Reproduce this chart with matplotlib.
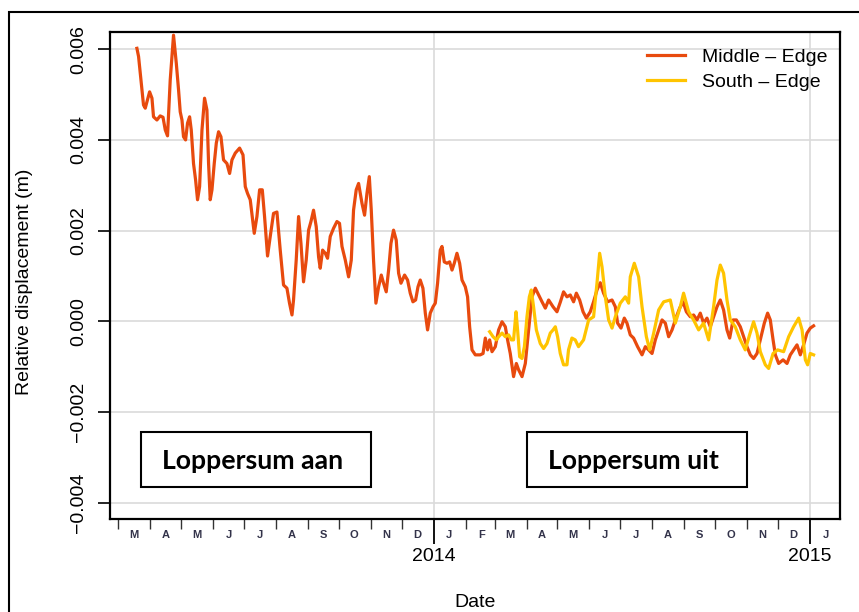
import numpy as np
import pandas as pd
import matplotlib
matplotlib.use('Agg')
import matplotlib.pyplot as plt
from matplotlib.patches import Rectangle
from matplotlib.lines import Line2D
import matplotlib.dates as mdates

plt.rcParams['font.family'] = ['Liberation Sans', 'DejaVu Sans']

# ---------------- data ----------------
base_date = '2013-03-01'

middle_days = [18.1, 19.7, 24.5, 26.2, 27.8, 30.4, 32.7, 34.2, 37.5, 40.7,
               43.4, 45.6, 47.8, 50.4, 53.6, 56.3, 58.5, 60.1, 61.8, 63.3,
               65.3, 67.2, 69.2, 70.8, 73.0, 75.0, 76.9, 78.9, 81.2, 83.7,
               86.0, 87.6, 89.2, 90.9, 93.1, 95.1, 97.3, 99.6, 102.1, 105.4,
               108.0, 110.3, 113.5, 117.7, 121.0, 123.2, 125.4, 128.0, 131.9, 134.5,
               137.1, 139.7, 141.9, 144.8, 147.4, 150.6, 153.9, 157.1, 160.3, 163.6,
               166.1, 168.5, 170.0, 172.6, 174.9, 177.2, 179.7, 182.3, 184.6, 186.9,
               189.4, 192.0, 194.3, 195.9, 198.2, 200.8, 203.0, 205.6, 208.8, 212.1,
               214.6, 217.0, 220.2, 223.4, 226.0, 228.2, 230.8, 233.1, 236.4, 238.9,
               241.2, 243.5, 245.4, 247.6, 249.9, 252.5, 255.1, 257.3, 259.9, 262.2,
               264.5, 267.0, 269.6, 271.9, 274.2, 277.7, 280.6, 283.2, 285.8, 288.4,
               290.7, 292.9, 295.5, 297.8, 300.0, 302.6, 305.3, 307.5, 309.7, 312.3,
               314.0, 316.2, 318.8, 321.4, 323.7, 325.9, 328.5, 331.1, 333.4, 336.6,
               338.8, 340.8, 343.1, 346.3, 351.1, 353.8, 356.0, 358.2, 360.2, 362.5,
               365.7, 368.9, 372.2, 375.4, 377.6, 380.2, 383.4, 386.1, 388.3, 391.6,
               394.8, 398.0, 401.3, 404.5, 407.7, 411.0, 414.2, 417.4, 421.7, 425.5,
               428.7, 431.9, 435.2, 438.4, 441.6, 444.3, 447.5, 450.8, 454.0, 457.8,
               461.0, 464.3, 467.5, 470.7, 474.6, 478.9, 482.1, 484.3, 487.6, 490.8,
               493.4, 496.6, 499.8, 503.7, 508.0, 511.2, 514.4, 517.7, 520.9, 524.1,
               527.4, 530.6, 533.8, 537.1, 541.3, 544.5, 547.8, 551.0, 554.8, 558.0,
               561.3, 564.5, 567.7, 571.0, 574.2, 577.4, 580.7, 583.9, 587.1, 590.4,
               593.0, 596.3, 599.5, 603.3, 606.5, 609.8, 613.0, 616.2, 619.5, 622.7,
               626.6, 629.8, 632.4, 635.1, 637.3, 640.5, 644.8, 648.6, 651.8, 655.0,
               658.3, 661.5, 664.7, 668.0, 671.2, 674.4]

middle_vals = [0.00602, 0.00584, 0.00477, 0.00470, 0.00484, 0.00506, 0.00492, 0.00451, 0.00444, 0.00453,
               0.00450, 0.00422, 0.00409, 0.00532, 0.00631, 0.00569, 0.00510, 0.00462, 0.00444, 0.00407,
               0.00400, 0.00437, 0.00451, 0.00422, 0.00348, 0.00312, 0.00268, 0.00297, 0.00422, 0.00492,
               0.00466, 0.00348, 0.00268, 0.00290, 0.00348, 0.00393, 0.00418, 0.00407, 0.00356, 0.00348,
               0.00326, 0.00356, 0.00371, 0.00382, 0.00367, 0.00297, 0.00282, 0.00268, 0.00194, 0.00231,
               0.00290, 0.00290, 0.00231, 0.00144, 0.00187, 0.00238, 0.00241, 0.00157, 0.00080, 0.00073,
               0.00040, 0.00014, 0.00047, 0.00135, 0.00231, 0.00172, 0.00087, 0.00135, 0.00201, 0.00220,
               0.00245, 0.00209, 0.00142, 0.00117, 0.00157, 0.00150, 0.00139, 0.00187, 0.00205, 0.00220,
               0.00216, 0.00165, 0.00135, 0.00098, 0.00135, 0.00245, 0.00290, 0.00304, 0.00260, 0.00234,
               0.00282, 0.00319, 0.00245, 0.00135, 0.00040, 0.00076, 0.00102, 0.00084, 0.00065, 0.00113,
               0.00172, 0.00201, 0.00179, 0.00106, 0.00084, 0.00102, 0.00091, 0.00062, 0.00043, 0.00047,
               0.00076, 0.00091, 0.00073, 0.00018, -0.00019, 0.00018, 0.00032, 0.00040, 0.00084, 0.00157,
               0.00165, 0.00131, 0.00128, 0.00131, 0.00113, 0.00128, 0.00150, 0.00128, 0.00091, 0.00076,
               0.00054, -0.00012, -0.00063, -0.00074, -0.00074, -0.00071, -0.00037, -0.00063, -0.00041, -0.00067,
               -0.00056, -0.00019, -0.00001, -0.00012, -0.00041, -0.00071, -0.00122, -0.00093, -0.00107, -0.00122,
               -0.00093, -0.00019, 0.00054, 0.00073, 0.00058, 0.00043, 0.00029, 0.00047, 0.00032, 0.00021,
               0.00042, 0.00065, 0.00054, 0.00058, 0.00043, 0.00062, 0.00047, 0.00021, 0.00007, 0.00021,
               0.00043, 0.00069, 0.00085, 0.00062, 0.00043, 0.00047, 0.00032, -0.00004, -0.00015, 0.00007,
               -0.00004, -0.00030, -0.00037, -0.00056, -0.00074, -0.00056, -0.00063, -0.00071, -0.00041, -0.00019,
               0.00003, -0.00004, -0.00034, -0.00019, 0.00010, 0.00029, 0.00043, 0.00021, 0.00010, 0.00014,
               0.00003, 0.00018, -0.00004, 0.00007, -0.00012, 0.00010, 0.00032, 0.00047, 0.00025, -0.00019,
               -0.00037, 0.00003, 0.00003, -0.00012, -0.00034, -0.00056, -0.00074, -0.00082, -0.00071, -0.00041,
               -0.00004, 0.00018, 0.00003, -0.00041, -0.00074, -0.00093, -0.00085, -0.00093, -0.00074, -0.00063,
               -0.00052, -0.00074, -0.00052, -0.00026, -0.00015, -0.00010]

south_days = [360.2, 363.5, 366.7, 368.9, 372.2, 375.4, 378.6, 381.2, 383.4, 385.8,
              387.3, 389.3, 391.6, 393.9, 396.4, 398.7, 400.6, 402.8, 405.5, 409.3,
              412.5, 415.8, 419.0, 421.7, 423.9, 426.1, 428.7, 431.9, 435.2, 436.7,
              440.0, 443.2, 446.4, 451.3, 456.2, 461.0, 464.3, 466.9, 469.2, 472.4,
              475.6, 478.9, 482.1, 486.9, 491.8, 495.0, 496.6, 500.5, 504.7, 508.0,
              512.2, 515.4, 519.3, 524.1, 529.0, 535.4, 540.3, 545.1, 548.3, 553.2,
              558.0, 562.9, 567.7, 572.6, 577.4, 580.7, 583.9, 587.1, 590.4, 593.6,
              598.4, 603.3, 608.1, 612.3, 616.2, 619.5, 622.7, 627.6, 630.8, 635.1,
              639.5, 645.3, 650.2, 655.0, 659.9, 663.2, 666.4, 668.6, 671.2, 674.4]

south_vals = [-0.00023, -0.00034, -0.00041, -0.00034, -0.00026, -0.00034, -0.00030, -0.00041, -0.00041, 0.00021,
              -0.00019, -0.00078, -0.00082, -0.00056, 0.00010, 0.00054, 0.00069, 0.00032, -0.00019, -0.00049,
              -0.00060, -0.00049, -0.00026, -0.00019, -0.00012, -0.00034, -0.00071, -0.00096, -0.00096, -0.00063,
              -0.00037, -0.00041, -0.00056, -0.00041, 0.00003, 0.00010, 0.00084, 0.00150, 0.00120, 0.00054,
              0.00003, -0.00015, 0.00010, 0.00040, 0.00054, 0.00040, 0.00098, 0.00128, 0.00098, 0.00032,
              -0.00034, -0.00063, -0.00026, 0.00025, 0.00043, 0.00047, -0.00004, 0.00032, 0.00062, 0.00021,
              0.00003, -0.00019, -0.00004, -0.00041, 0.00032, 0.00091, 0.00124, 0.00106, 0.00047, 0.00003,
              -0.00012, -0.00041, -0.00063, -0.00030, -0.00001, -0.00026, -0.00067, -0.00096, -0.00104, -0.00071,
              -0.00063, -0.00067, -0.00034, -0.00012, 0.00007, -0.00019, -0.00085, -0.00096, -0.00071, -0.00074]

series_labels = ['Middle \u2013 Edge', 'South \u2013 Edge']
series_colors = ['#E84A0E', '#FFC400']

y_ticks = [-0.004, -0.002, 0.0, 0.002, 0.004, 0.006]
y_tick_labels = ['\u22120.004', '\u22120.002', '0.000', '0.002', '0.004', '0.006']

month_labels = ['M', 'A', 'M', 'J', 'J', 'A', 'S', 'O', 'N', 'D', 'J',
                'F', 'M', 'A', 'M', 'J', 'J', 'A', 'S', 'O', 'N', 'D', 'J']
year_ticks = ['2014-01-01', '2015-01-01']
year_labels = ['2014', '2015']

box_labels = ['Loppersum aan', 'Loppersum uit']

# ---------------- figure ----------------
W, H = 859, 612
fig = plt.figure(figsize=(W / 100, H / 100), dpi=100)
ax = fig.add_axes([110 / W, (H - 519) / H, 730 / W, 487 / H])

base = pd.Timestamp(base_date)
md = base + pd.to_timedelta(middle_days, unit='D')
sd = base + pd.to_timedelta(south_days, unit='D')

ax.plot(md, middle_vals, color=series_colors[0], lw=2.3, solid_joinstyle='round', zorder=3)
ax.plot(sd, south_vals, color=series_colors[1], lw=2.3, solid_joinstyle='round', zorder=3)

ax.set_xlim(pd.Timestamp('2013-02-21'), pd.Timestamp('2015-01-30'))
ax.set_ylim(-0.00436, 0.00638)

# y axis
ax.set_yticks(y_ticks)
ax.set_yticklabels(y_tick_labels)
ax.tick_params(axis='y', length=8.5, width=1.2, pad=8, labelsize=14, labelrotation=90)
for lab in ax.get_yticklabels():
    lab.set_va('center')

# x axis
months = pd.date_range('2013-03-01', '2015-01-01', freq='MS')
ax.set_xticks([pd.Timestamp(d) for d in year_ticks])
ax.set_xticklabels(year_labels)
ax.set_xticks(months, minor=True)
ax.tick_params(axis='x', which='major', length=18, width=1.3, pad=3, labelsize=14)
ax.tick_params(axis='x', which='minor', length=7.5, width=1.0, color='#333333')

for m, lab in zip(months, month_labels):
    mid = m + pd.Timedelta(days=15)
    ax.annotate(lab, xy=(mdates.date2num(mid), 0), xycoords=('data', 'axes fraction'),
                xytext=(0, -11.5), textcoords='offset points', ha='center', va='center',
                fontsize=8, fontweight='bold', color='#33334a', annotation_clip=False)

ax.grid(True, which='major', color='#DADADA', lw=1.2)
ax.set_axisbelow(True)
for s in ax.spines.values():
    s.set_linewidth(1.6)
    s.set_color('black')

# legend
handles = [Line2D([], [], color=c, lw=2.3) for c in series_colors]
ax.legend(handles, series_labels, loc='upper left', bbox_to_anchor=(0.7356, 0.966),
          frameon=False, borderpad=0, borderaxespad=0, handlelength=1.95,
          handletextpad=0.87, labelspacing=0.38, fontsize=14)

# annotation boxes
boxes = [(141, 371), (527, 747)]
text_x = [162, 547.7]
for (x0, x1), tx, lab in zip(boxes, text_x, box_labels):
    ax.add_patch(Rectangle(((x0 - 110) / 730, (519 - 487) / 487), (x1 - x0) / 730, 55 / 487,
                           transform=ax.transAxes, facecolor='white', edgecolor='black',
                           lw=1.5, zorder=4))
    ax.text((tx - 110) / 730, (519 - 469) / 487, lab, transform=ax.transAxes,
            fontsize=19.2, fontweight='bold', family=['Lato', 'DejaVu Sans'],
            ha='left', va='baseline', zorder=5)

# axis titles
fig.text(475 / W, 1 / H, 'Date', ha='center', va='bottom', fontsize=14)
fig.text(25 / W, (H - 282) / H, 'Relative displacement (m)', rotation=90,
         ha='center', va='center', fontsize=14)

# outer frame (left and top edges visible)
fig.add_artist(Rectangle((9 / W, -0.05), 1.2, (H - 12) / H + 0.05, transform=fig.transFigure,
                         fill=False, lw=1.5, edgecolor='black'))

fig.savefig('out.png', dpi=100)
